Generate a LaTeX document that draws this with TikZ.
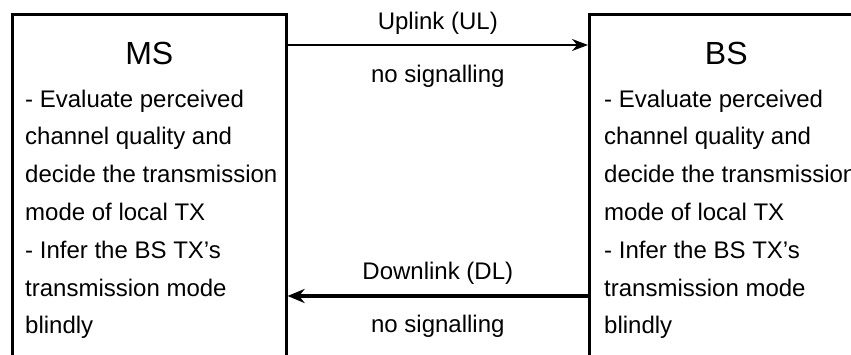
\documentclass[tikz,border=0pt]{standalone}
\usepackage{fontspec}
\setmainfont{Liberation Sans}
\usetikzlibrary{arrows.meta, positioning}
\tikzset{
  unitbox/.style={rectangle, draw=black, line width=2.6pt,
    minimum width=274pt, minimum height=400pt, inner sep=0pt,
    anchor=north west},
  boxtitle/.style={font=\fontsize{32}{38}\selectfont, inner sep=0pt,
    anchor=base},
  boxtext/.style={font=\fontsize{24}{37.8}\selectfont, align=left,
    inner sep=0pt, anchor=base west},
  linklabel/.style={font=\fontsize{24}{28}\selectfont, inner sep=0pt,
    anchor=base},
  ularrow/.style={-{Stealth[length=16pt, width=12pt]}, line width=1.8pt},
  dlarrow/.style={-{Stealth[length=17pt, width=14pt]}, line width=3.2pt}
}

\begin{document}
\begin{tikzpicture}[x=1pt, y=1pt]

  \useasboundingbox (0,0) rectangle (851,355);

  % ── The two stations (both run off the bottom edge) ─────────────────────
  \node[unitbox] (ms) at (11, 342) {};
  \node[unitbox] (bs) at (588, 342) {};

  % ── Titles ────────────────────────────────────────────────────────────────
  \node[boxtitle] (mstitle) at ([yshift=-52pt]ms.north) {MS};
  \node[boxtitle] (bstitle) at ([yshift=-52pt]bs.north) {BS};

  % ── Task lists (base = baseline of the last line) ───────────────────────
  \node[boxtext] (mstext) at ([xshift=14pt, yshift=-321pt]ms.north west)
    {- Evaluate perceived\\
     channel quality and\\
     decide the transmission\\
     mode of local TX\\
     - Infer the BS TX’s\\
     transmission mode\\
     blindly};
  \node[boxtext] (bstext) at ([xshift=16pt, yshift=-321pt]bs.north west)
    {- Evaluate perceived\\
     channel quality and\\
     decide the transmission\\
     mode of local TX\\
     - Infer the BS TX’s\\
     transmission mode\\
     blindly};

  % ── Uplink ────────────────────────────────────────────────────────────────
  \draw[ularrow] ([yshift=-32pt]ms.north east) -- ([yshift=-32pt]bs.north west)
    node[linklabel, midway, yshift=15pt] (ullabel) {Uplink (UL)}
    node[linklabel, midway, yshift=-38pt] (ulnote) {no signalling};

  % ── Downlink ──────────────────────────────────────────────────────────────
  \draw[dlarrow] ([yshift=-283pt]bs.north west) -- ([yshift=-283pt]ms.north east)
    node[linklabel, midway, yshift=16pt] (dllabel) {Downlink (DL)}
    node[linklabel, midway, yshift=-37pt] (dlnote) {no signalling};

\end{tikzpicture}
\end{document}
